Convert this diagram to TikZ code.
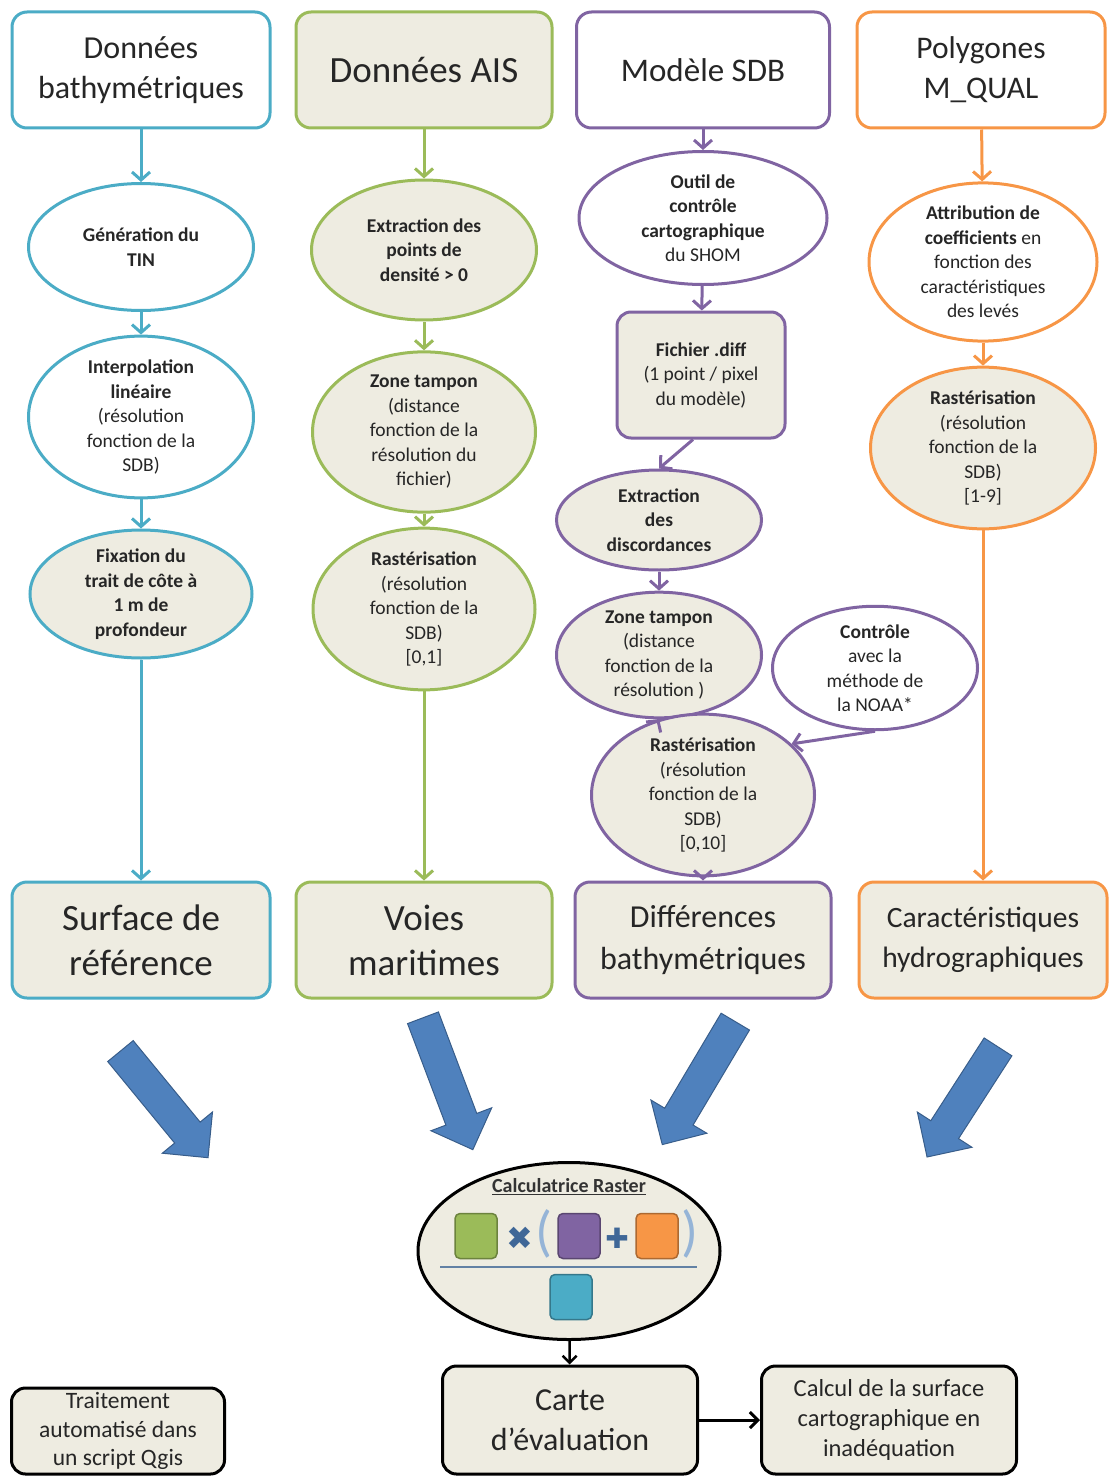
\documentclass[tikz,border=0pt]{standalone}
\usepackage{fontspec}
\setmainfont{Carlito}
\newfontfamily\symfont{DejaVu Sans}
\usetikzlibrary{shapes.geometric,shapes.arrows,arrows.meta}
\definecolor{cyanb}{HTML}{4BACC6}
\definecolor{greenb}{HTML}{9BBB59}
\definecolor{purpleb}{HTML}{8064A2}
\definecolor{orangeb}{HTML}{F79646}
\definecolor{beige}{HTML}{EEECE1}
\definecolor{bluearr}{HTML}{4F81BD}
\definecolor{bluedark}{HTML}{385D8A}
\tikzset{
  box/.style={draw, rounded corners=15pt, line width=3pt, minimum width=256pt,
    minimum height=116pt, align=center, text=black!85},
  proc/.style={ellipse, draw, line width=3pt, align=center, inner sep=0pt,
    text=black!85, font=\fontsize{19.5}{24.5}\selectfont},
  flow/.style={line width=3pt, -{Straight Barb[length=8pt,width=18pt]}},
  fat/.style={single arrow, draw=bluedark, fill=bluearr, line width=1pt,
    inner sep=16pt, single arrow head extend=16pt, minimum height=#1},
  endbox/.style={draw, rounded corners=14pt, line width=3pt, fill=beige,
    align=center, text=black!85},
  tile/.style={draw, rounded corners=5pt, line width=1.5pt, minimum width=42pt,
    minimum height=45pt}
}
\begin{document}
\begin{tikzpicture}[x=1pt,y=-1pt]
\useasboundingbox (0,0) rectangle (1108,1477);

% sources
\node[box, draw=cyanb, fill=white, minimum width=258pt, font=\fontsize{32}{40}\selectfont]
  (bathy) at (141,70) {Données\\bathymétriques};
\node[box, draw=greenb, fill=beige, font=\fontsize{37}{40}\selectfont]
  (ais) at (424,70) {Données AIS};
\node[box, draw=purpleb, fill=white, minimum width=253pt, font=\fontsize{33}{40}\selectfont]
  (sdb) at (703,70) {Modèle SDB};
\node[box, draw=orangeb, fill=white, minimum width=248pt, font=\fontsize{31.5}{40}\selectfont]
  (poly) at (981,70) {Polygones\\M\_QUAL};

% bathymetrie
\node[proc, draw=cyanb, fill=white, minimum width=225pt, minimum height=127pt]
  (g1) at (141,247) {\textbf{Génération du}\\\textbf{TIN}};
\node[proc, draw=cyanb, fill=white, minimum width=225pt, minimum height=143pt]
  (g2) at (141,417) {\textbf{Interpolation}\\\textbf{linéaire}\\(résolution\\fonction de la\\SDB)};
\node[proc, draw=cyanb, fill=beige, minimum width=222pt, minimum height=128pt]
  (g3) at (141,594) {\textbf{Fixation du}\\\textbf{trait de côte à}\\\textbf{1 m de}\\\textbf{profondeur}};

% AIS
\node[proc, draw=greenb, fill=beige, minimum width=225pt, minimum height=140pt]
  (a1) at (424,250) {\textbf{Extraction des}\\\textbf{points de}\\\textbf{densité > 0}};
\node[proc, draw=greenb, fill=beige, minimum width=223pt, minimum height=145pt]
  (a2) at (424,432) {\textbf{Zone tampon}\\(distance\\fonction de la\\résolution du\\fichier)};
\node[proc, draw=greenb, fill=beige, minimum width=222pt, minimum height=138pt]
  (a3) at (424,609) {\textbf{Rastérisation}\\(résolution\\fonction de la\\SDB)\\{[0,1]}};

% SDB
\node[proc, draw=purpleb, fill=white, minimum width=248pt, minimum height=133pt]
  (s1) at (703,218) {\textbf{Outil de}\\\textbf{contrôle}\\\textbf{cartographique}\\du SHOM};
\node[draw=purpleb, fill=beige, line width=3pt, rounded corners=14pt, align=center,
  minimum width=168pt, minimum height=126pt, text=black!85, font=\fontsize{19.5}{24.5}\selectfont]
  (s2) at (701,375) {\textbf{Fichier .diff}\\(1 point / pixel\\du modèle)};
\node[proc, draw=purpleb, fill=beige, minimum width=205pt, minimum height=100pt]
  (s3) at (659,520) {\textbf{Extraction}\\\textbf{des}\\\textbf{discordances}};
\node[proc, draw=purpleb, fill=beige, minimum width=205pt, minimum height=115pt]
  (s4) at (659,655) {\textbf{Zone tampon}\\(distance\\fonction de la\\résolution )};
\node[proc, draw=purpleb, fill=white, minimum width=205pt, minimum height=120pt]
  (s5) at (875,668) {\textbf{Contrôle}\\avec la\\méthode de\\la NOAA*};
\node[proc, draw=purpleb, fill=beige, minimum width=223pt, minimum height=146pt]
  (s6) at (703,795) {\textbf{Rastérisation}\\(résolution\\fonction de la\\SDB)\\{[0,10]}};

% M_QUAL
\node[proc, draw=orangeb, fill=white, minimum width=228pt, minimum height=155pt]
  (p1) at (983,262) {\textbf{Attribution de}\\\textbf{coefficients} en\\fonction des\\caractéristiques\\des levés};
\node[proc, draw=orangeb, fill=beige, minimum width=225pt, minimum height=140pt]
  (p2) at (983,448) {\textbf{Rastérisation}\\(résolution\\fonction de la\\SDB)\\{[1-9]}};

% results
\node[box, draw=cyanb, fill=beige, minimum width=258pt, font=\fontsize{37}{45}\selectfont]
  (r1) at (141,940) {Surface de\\référence};
\node[box, draw=greenb, fill=beige, font=\fontsize{37}{45}\selectfont]
  (r2) at (424,940) {Voies\\maritimes};
\node[box, draw=purpleb, fill=beige, font=\fontsize{32}{42}\selectfont]
  (r3) at (703,940) {Différences\\bathymétriques};
\node[box, draw=orangeb, fill=beige, minimum width=248pt, font=\fontsize{29.5}{40}\selectfont]
  (r4) at (983,940) {Caractéristiques\\hydrographiques};

\draw[flow, cyanb] (bathy) -- (g1);
\draw[flow, cyanb] (g1) -- (g2);
\draw[flow, cyanb] (g2) -- (g3);
\draw[flow, cyanb] (g3) -- (r1);
\draw[flow, greenb] (ais) -- (a1);
\draw[flow, greenb] (a1) -- (a2);
\draw[flow, greenb] (a2) -- (a3);
\draw[flow, greenb] (a3) -- (r2);
\draw[flow, purpleb] (sdb) -- (s1);
\draw[flow, purpleb] (s1) -- (s2);
\draw[flow, purpleb] ([xshift=-8pt]s2.south) -- (s3.north);
\draw[flow, purpleb] (s3) -- (s4);
\draw[flow, purpleb] (s4.south) -- (s6.120);
\draw[flow, purpleb] (s5.south) -- (s6.30);
\draw[flow, purpleb] (s6) -- (r3);
\draw[flow, orangeb] (poly) -- (p1);
\draw[flow, orangeb] (p1) -- (p2);
\draw[flow, orangeb] (p2) -- (r4);

% big arrows
\node[fat=138pt, rotate=-50.6] (f1) at (159,1098) {};
\node[fat=141pt, rotate=-69.3] (f2) at (445,1076) {};
\node[fat=143pt, rotate=-120.7] (f3) at (703,1076) {};
\node[fat=131pt, rotate=-122.8] (f4) at (967,1095) {};

% raster calculator
\node[ellipse, draw, line width=3pt, fill=beige, minimum width=302pt, minimum height=177pt]
  (calc) at (569,1251) {};
\node[font=\fontsize{20}{22}\selectfont\bfseries, text=black!80] (calctitle) at (569,1187)
  {\underline{Calculatrice Raster}};
\node[tile, draw=greenb!70!black, fill=greenb] (tg) at (476,1236) {};
\node[text=bluearr!80!black, font=\symfont\fontsize{32}{32}\selectfont] (tx) at (520,1238) {✖};
\node[text=bluearr!60, font=\fontsize{56}{56}\selectfont] (po) at (544,1234) {(};
\node[tile, draw=purpleb!70!black, fill=purpleb] (tp) at (579,1236) {};
\node[text=bluearr!80!black, font=\symfont\fontsize{28}{28}\selectfont] (tplus) at (617,1238) {✚};
\node[tile, draw=orangeb!70!black, fill=orangeb] (to) at (657,1236) {};
\node[text=bluearr!60, font=\fontsize{56}{56}\selectfont] (pc) at (690,1234) {)};
\draw[line width=2pt, bluearr!60!gray] (440,1267) -- (697,1267);
\node[tile, draw=cyanb!70!black, fill=cyanb] (tc) at (571,1297) {};

% outputs
\node[endbox, minimum width=255pt, minimum height=108pt, font=\fontsize{32}{40}\selectfont]
  (carte) at (570,1420) {Carte\\d’évaluation};
\node[endbox, minimum width=255pt, minimum height=108pt, font=\fontsize{24.5}{30}\selectfont]
  (calcul) at (889,1420) {Calcul de la surface\\cartographique en\\inadéquation};
\node[endbox, minimum width=213pt, minimum height=86pt, font=\fontsize{23.5}{28.5}\selectfont]
  (qgis) at (118,1431) {Traitement\\automatisé dans\\un script Qgis};
\draw[line width=2.5pt, -{Straight Barb[length=7pt,width=14pt]}] (calc) -- (carte);
\draw[line width=3pt, -{Straight Barb[length=8pt,width=16pt]}] (carte) -- (calcul);
\end{tikzpicture}
\end{document}
